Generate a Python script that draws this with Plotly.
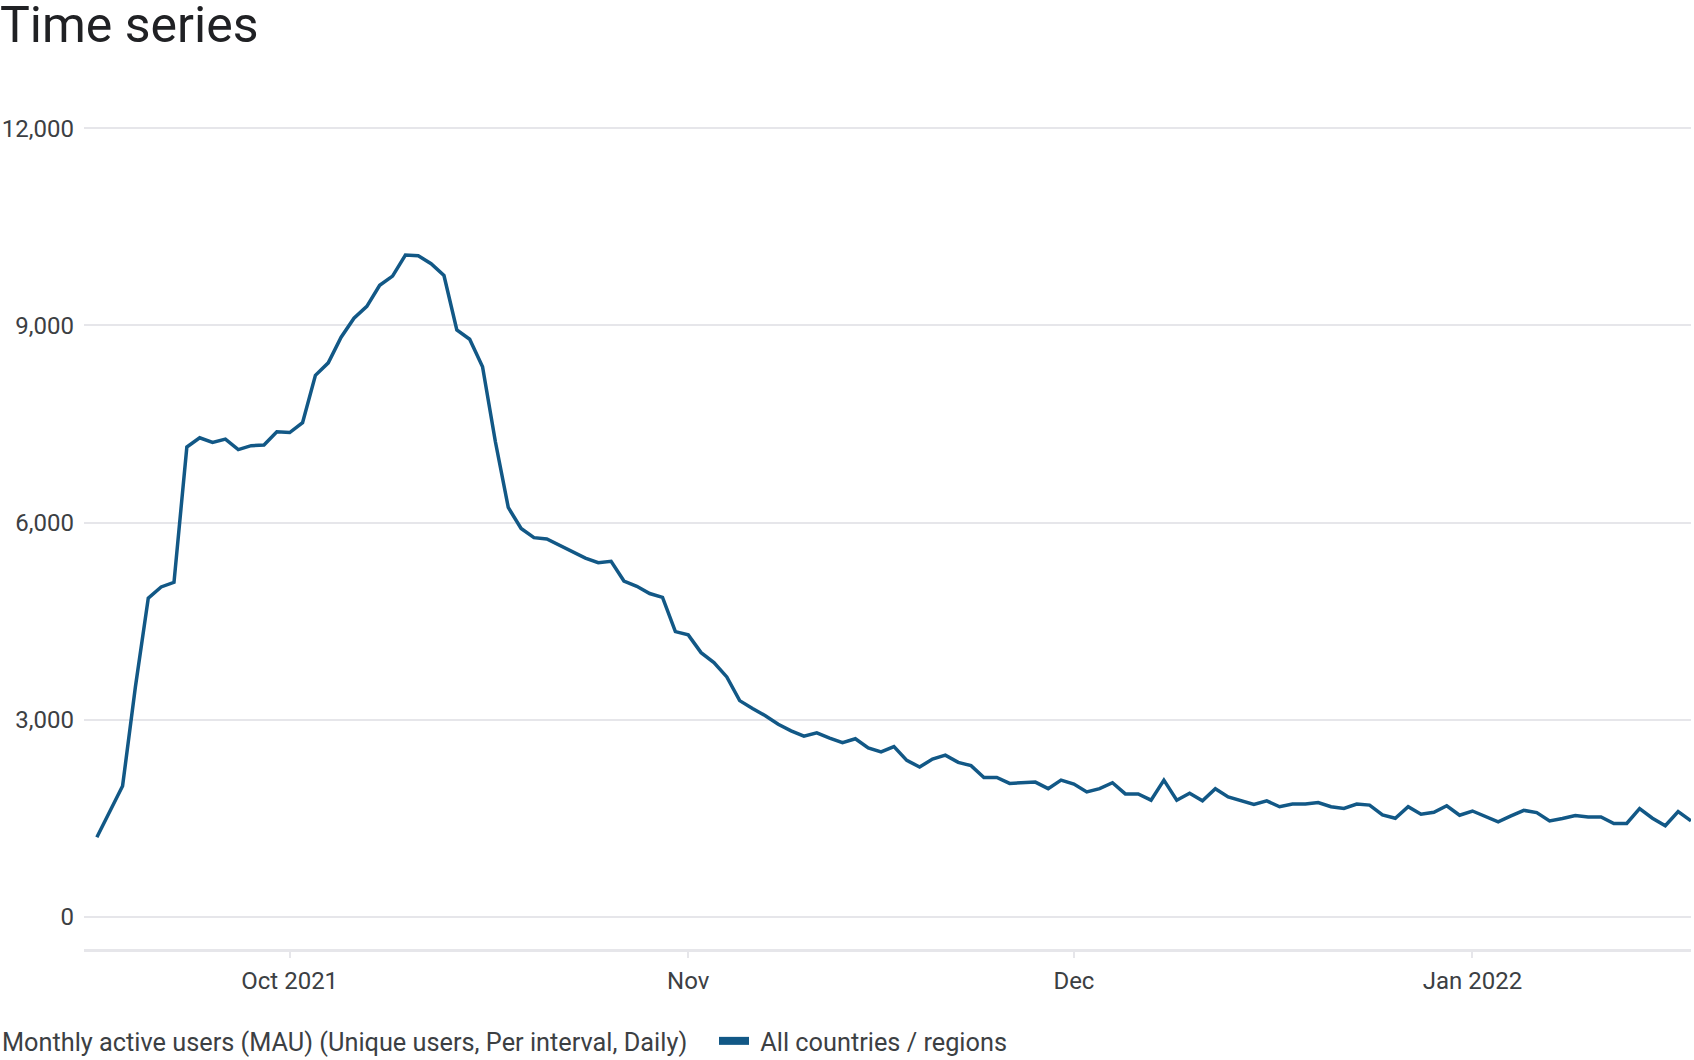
import pandas as pd
import plotly.graph_objects as go

# daily MAU, starting 2021-09-16
start_day = "2021-09-16"
mau = [
    1210, 1600, 1990, 3500, 4850, 5020, 5090, 7150, 7290, 7220,
    7270, 7110, 7170, 7180, 7380, 7370, 7520, 8240, 8430, 8820,
    9110, 9290, 9610, 9750, 10070, 10060, 9940, 9760, 8930, 8790,
    8370, 7230, 6230, 5910, 5770, 5750, 5650, 5550, 5460, 5390,
    5410, 5110, 5030, 4920, 4860, 4340, 4290, 4020, 3870, 3650,
    3290, 3170, 3060, 2930, 2830, 2750, 2800, 2720, 2650, 2710,
    2570, 2510, 2590, 2380, 2280, 2400, 2460, 2350, 2300, 2120,
    2120, 2030, 2040, 2050, 1950, 2080, 2020, 1900, 1950, 2040,
    1870, 1870, 1775, 2080, 1775, 1880, 1765, 1950, 1825, 1765,
    1710, 1765, 1675, 1715, 1715, 1740, 1675, 1650, 1715, 1700,
    1550, 1500, 1675, 1560, 1590, 1690, 1545, 1610, 1530, 1445,
    1535, 1620, 1585, 1460, 1495, 1540, 1520, 1520, 1420, 1420,
    1645, 1500, 1385, 1600, 1460,
]
days = pd.date_range(start_day, periods=len(mau), freq="D")

month_ticks = ["2021-10-01", "2021-11-01", "2021-12-01", "2022-01-01"]
month_labels = ["Oct 2021", "Nov", "Dec", "Jan 2022"]
y_ticks = [0, 3000, 6000, 9000, 12000]

series_name = "All countries / regions"
metric_name = "Monthly active users (MAU) (Unique users, Per interval, Daily)"

LINE = "#125886"
GRID = "#e6e6ea"
TEXT = "#3c4043"
FONT = "Roboto, Noto Sans, sans-serif"

fig = go.Figure()

fig.add_trace(go.Scatter(
    x=days, y=mau, mode="lines",
    line=dict(color=LINE, width=3.5),
    showlegend=False,
    hoverinfo="x+y",
))

# legend swatch only
fig.add_trace(go.Scatter(
    x=[None], y=[None], mode="lines",
    name="&nbsp;" + series_name,
    line=dict(color=LINE, width=8),
))

fig.update_layout(
    width=1694, height=1060,
    margin=dict(l=84, r=3, t=125, b=111),
    paper_bgcolor="white",
    plot_bgcolor="white",
    font=dict(family=FONT, size=24, color=TEXT),
    title=dict(
        text="Time series",
        font=dict(family=FONT, size=50, color="#202124"),
        x=0, xref="container", xanchor="left",
        y=0.977, yref="container", yanchor="middle",
        pad=dict(l=0, t=0),
    ),
    legend=dict(
        orientation="h",
        xref="container", yref="container",
        x=0, y=0.018, xanchor="left", yanchor="middle",
        title=dict(text=metric_name + "&nbsp;&nbsp;&nbsp;", side="left",
                   font=dict(size=25.3, color=TEXT)),
        font=dict(size=25.3, color=TEXT),
        itemwidth=30,
    ),
)

fig.update_xaxes(
    range=["2021-09-15", "2022-01-18"],
    tickvals=month_ticks, ticktext=month_labels,
    showgrid=False,
    showline=True, linecolor=GRID, linewidth=3,
    ticks="outside", ticklen=6, tickwidth=2, tickcolor=GRID,
    tickfont=dict(size=24, color=TEXT),
    ticklabelstandoff=2,
)

fig.update_yaxes(
    range=[-490, 12050],
    tickvals=y_ticks,
    tickformat=",",
    showgrid=True, gridcolor=GRID, gridwidth=1.5,
    zeroline=True, zerolinecolor=GRID, zerolinewidth=1.5,
    showline=False,
    tickfont=dict(size=24, color=TEXT),
    ticklabelstandoff=9,
)

# page has a default 8px body margin; drop it so the figure fills the window
fig.write_html(
    "out.html",
    config={"displayModeBar": False},
    post_script="document.body.style.margin='0';document.body.style.overflow='hidden';",
)
